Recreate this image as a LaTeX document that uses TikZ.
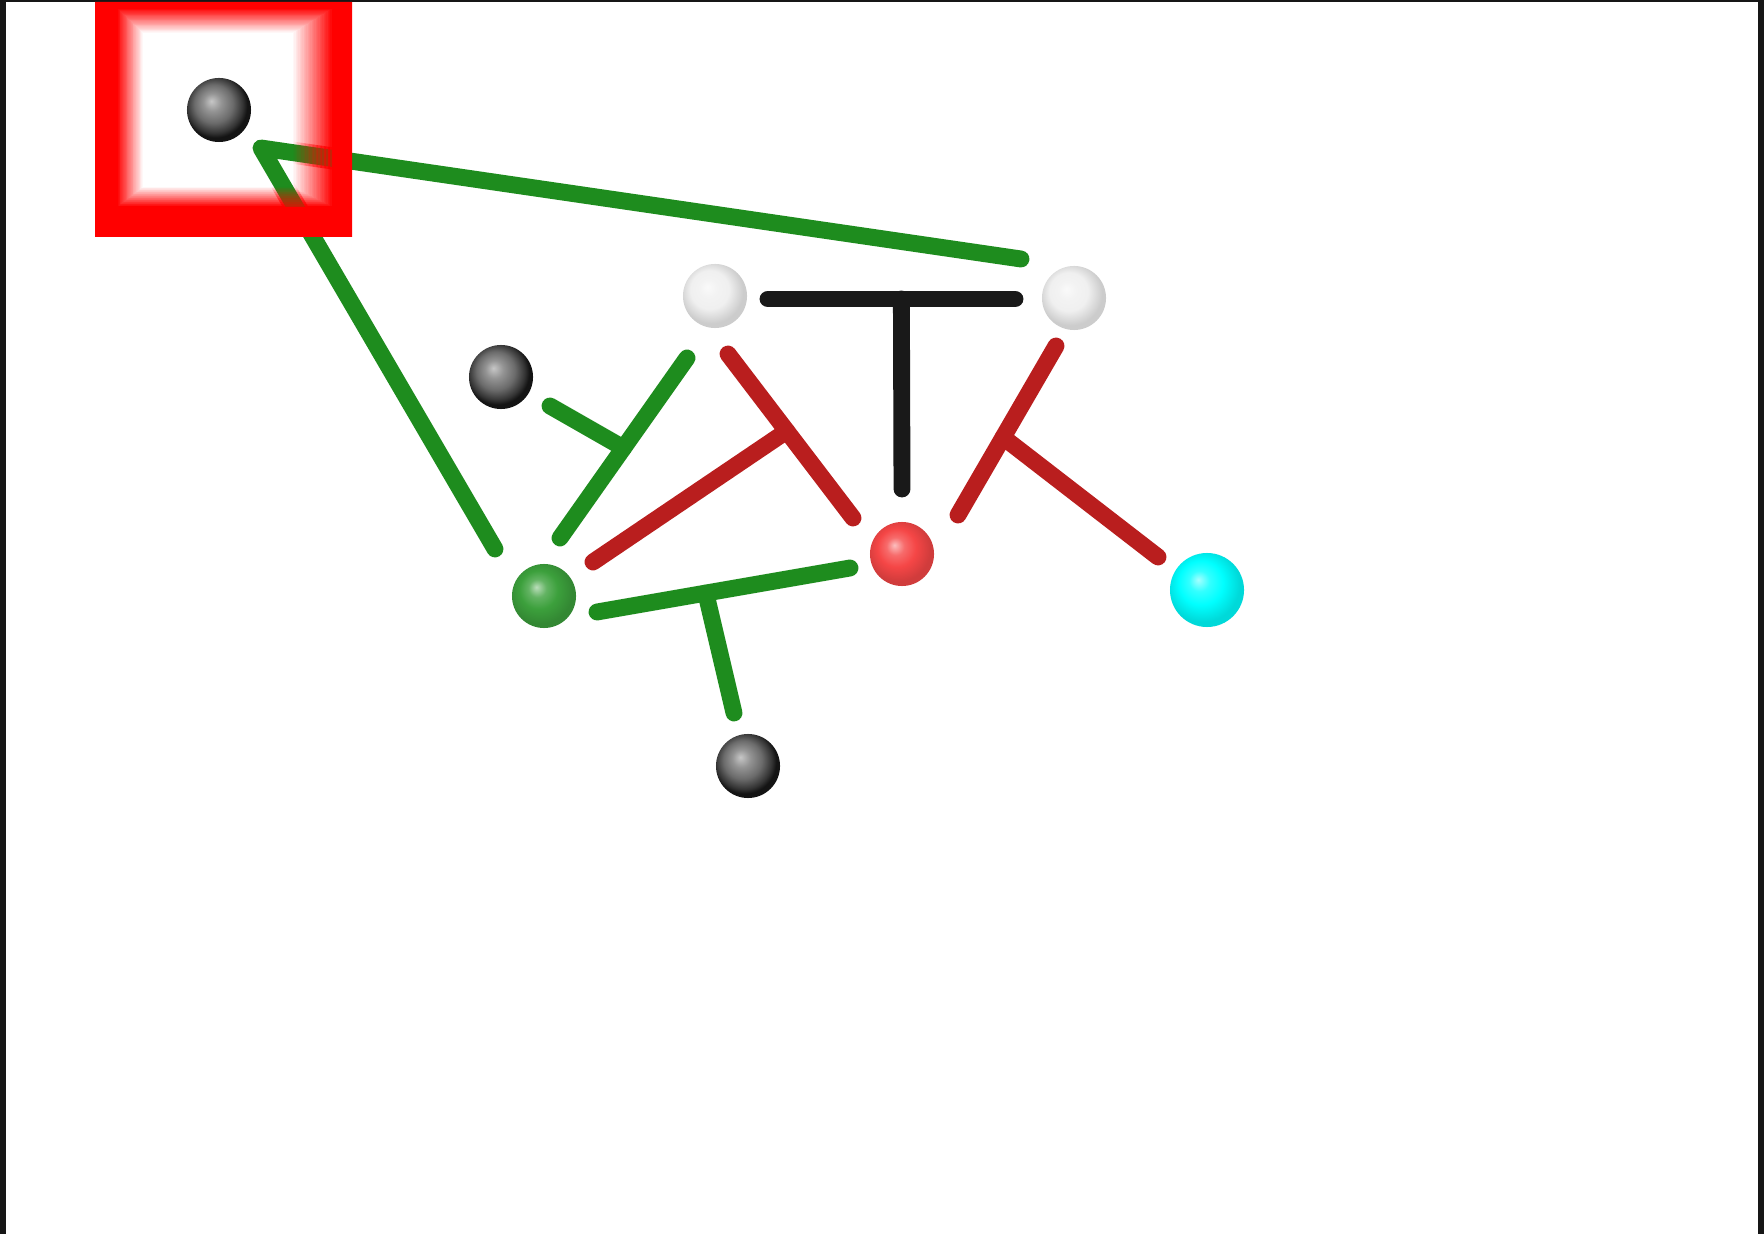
\documentclass[tikz,border=0pt]{standalone}
\usepackage{xcolor}
\usepackage{tikz}
\usetikzlibrary{calc}
\definecolor{bondgreen}{RGB}{30,140,30}
\definecolor{bondred}{RGB}{185,30,30}
\definecolor{bondblack}{RGB}{25,25,25}
\definecolor{atomgreen}{RGB}{60,160,60}
\definecolor{atomred}{RGB}{245,70,70}
\definecolor{edge}{RGB}{22,22,22}
\colorlet{ballc}{gray}
\pgfdeclareradialshading[ballc]{softball}{\pgfpoint{-6bp}{7bp}}{%
  color(0bp)=(ballc!35!white); color(7bp)=(ballc!80!white);
  color(15bp)=(ballc); color(25bp)=(ballc!85!black); color(50bp)=(ballc!85!black)}
\pgfdeclareradialshading{darkball}{\pgfpoint{-6bp}{7bp}}{%
  color(0bp)=(black!22); color(7bp)=(black!42);
  color(15bp)=(black!58); color(22bp)=(black!80); color(25bp)=(black!92);
  color(50bp)=(black!92)}

\begin{document}
\begin{tikzpicture}[x=0.01cm,y=-0.01cm,
    atom/.style={circle,inner sep=0pt,minimum size=0.64cm,shading=softball},
    tint/.code={\colorlet{ballc}{#1}},
    hatom/.style={circle,inner sep=0pt,minimum size=0.64cm,shading=darkball},
    bond/.style={line width=4.8pt,line cap=round,line join=round}]
  % lienzo y marco oscuro
  \useasboundingbox (0,0) rectangle (1764,1234);
  \fill[white] (0,0) rectangle (1764,1234);
  \fill[edge] (0,0) rectangle (6,1234);
  \fill[edge] (0,0) rectangle (1764,2);
  \fill[edge] (1758,0) rectangle (1764,1234);

  % recuadro rojo: borde lleno (so) y centro blanco (wi)
  \coordinate (bo1) at (95,2);
  \coordinate (bo2) at (352,237);
  \coordinate (so1) at (117,8);
  \coordinate (so2) at (333,207);
  \coordinate (wi1) at (143,33);
  \coordinate (wi2) at (293,187);
  \fill[red] (bo1) rectangle (bo2);
  \foreach \k in {1,...,30}{
    \pgfmathsetmacro{\t}{\k/30}
    \pgfmathtruncatemacro{\p}{100-100*\k/30}
    \fill[red!\p!white] ($(so1)!\t!(wi1)$) rectangle ($(so2)!\t!(wi2)$);
  }

  % extremos de los enlaces
  \coordinate (fk) at (261,148);
  \coordinate (fa) at (1021,259);
  \coordinate (fb) at (495,549);
  \coordinate (tl) at (768,299);
  \coordinate (tr) at (1015,299);
  \coordinate (tb) at (902,489);
  \coordinate (ya) at (687,358);
  \coordinate (yb) at (560,538);
  \coordinate (ys) at (550,406);
  \coordinate (ra1) at (728,354);
  \coordinate (ra2) at (853,518);
  \coordinate (rb) at (593,562);
  \coordinate (rc1) at (1056,346);
  \coordinate (rc2) at (958,515);
  \coordinate (rd) at (1158,557);
  \coordinate (ge1) at (597,612);
  \coordinate (ge2) at (850,568);
  \coordinate (gf) at (734,713);

  % enlaces verdes, negro y rojos
  \draw[bond,bondgreen] (fa) -- (fk) -- (fb);
  \draw[bond,bondgreen] (ya) -- (yb);
  \draw[bond,bondgreen] (ys) -- ($(ya)!0.5!(yb)$);
  \draw[bond,bondgreen] (ge1) -- (ge2);
  \draw[bond,bondgreen] ($(ge1)!0.43!(ge2)$) -- (gf);
  \draw[bond,bondblack] (tl) -- (tr);
  \draw[bond,bondblack] ($(tl)!0.54!(tr)$) -- (tb);
  \draw[bond,bondred] (ra1) -- (ra2);
  \draw[bond,bondred] (rb) -- ($(ra1)!0.47!(ra2)$);
  \draw[bond,bondred] (rc1) -- (rc2);
  \draw[bond,bondred] ($(rc1)!0.54!(rc2)$) -- (rd);

  % el rojo del recuadro tapa en parte el enlace verde
  \foreach \e in {fa,fb}{
    \begin{scope}
      \clip ($(fk)!0.11cm!90:(\e)$) -- ($(\e)!0.11cm!-90:(fk)$)
        -- ($(\e)!0.11cm!90:(fk)$) -- ($(fk)!0.11cm!-90:(\e)$) -- cycle;
      \foreach \k in {0,...,29}{
        \pgfmathsetmacro{\ta}{\k/30}
        \pgfmathsetmacro{\tb}{(\k+1)/30}
        \pgfmathsetmacro{\op}{1-(\k+0.5)/30}
        \fill[red,opacity=\op,even odd rule]
          ($(so1)!\ta!(wi1)$) rectangle ($(so2)!\ta!(wi2)$)
          ($(so1)!\tb!(wi1)$) rectangle ($(so2)!\tb!(wi2)$);
      }
    \end{scope}
  }
  \fill[red,even odd rule] (bo1) rectangle (bo2) (so1) rectangle (so2);

  % esferas
  \node[hatom] (hbox) at (219,110) {};
  \node[hatom] (hleft) at (501,377) {};
  \node[hatom] (hlow) at (748,766) {};
  \node[atom,tint=gray!12] (wa) at (715,296) {};
  \node[atom,tint=gray!12] (wb) at (1074,298) {};
  \node[atom,tint=atomgreen] (gn) at (544,596) {};
  \node[atom,tint=atomred] (rn) at (902,554) {};
  \node[atom,tint=cyan,minimum size=0.74cm] (cy) at (1207,590) {};
\end{tikzpicture}
\end{document}
